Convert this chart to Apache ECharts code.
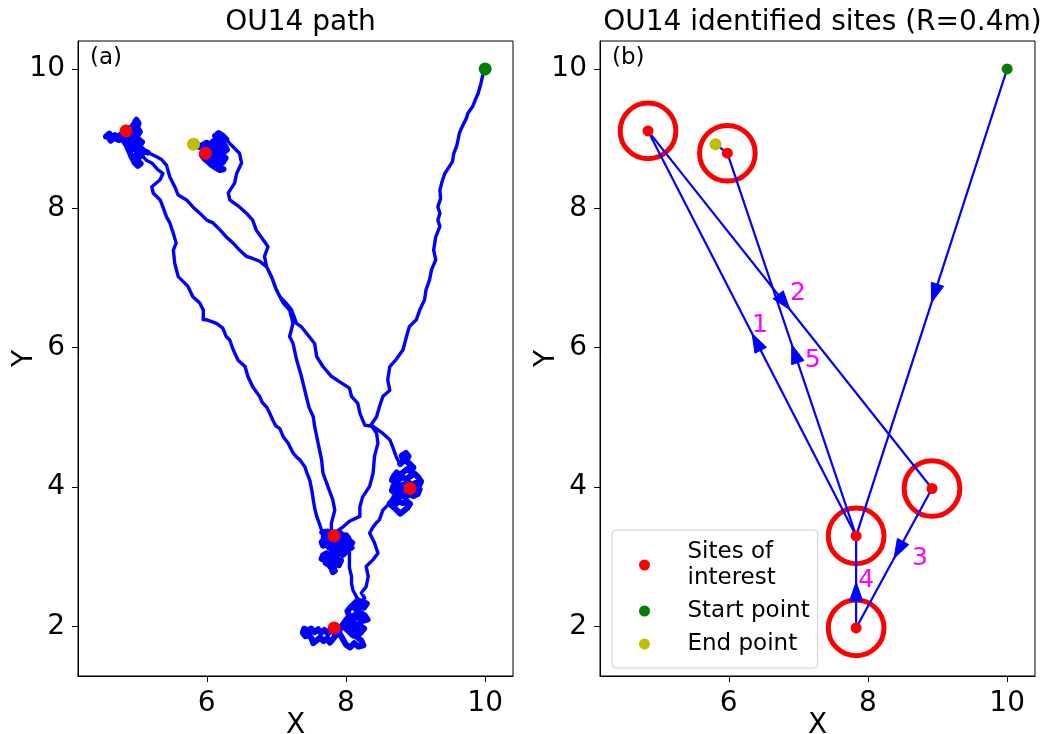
<!DOCTYPE html>
<html>
<head>
<meta charset="utf-8">
<script src="https://cdn.jsdelivr.net/npm/echarts@6/dist/echarts.min.js"></script>
<style>
  html, body { margin: 0; padding: 0; background: #ffffff; }
  #chart { width: 1047px; height: 734px; }
</style>
</head>
<body>
<div id="chart"></div>
<script>
// ---- axis ranges and ticks ----
const xRange = [4.15, 10.40];
const yRange = [1.29, 10.40];
const xTicks = [6, 8, 10];
const yTicks = [2, 4, 6, 8, 10];

// ---- start / end of the trajectory ----
const startPoint = [10.00, 10.00];
const endPoint = [5.81, 8.92];

// ---- identified sites (A, B, C, D, E) ----
const siteX = [7.83, 4.84, 8.92, 7.83, 5.98];
const siteY = [3.30, 9.11, 3.98, 1.98, 8.79];
const siteRadius = 0.4;
// order in which the walker visits the sites: A, B, C, D, A, E
const visitOrder = [0, 1, 2, 3, 0, 4];
// leg labels for the hops between sites (the first hop from the start is unlabelled)
const legLabels = ['', '1', '2', '3', '4', '5'];

// ---- recorded trajectory, piece by piece ----
const toSiteA = [
  [10.00, 10.00], [9.96, 9.89], [9.94, 9.79], [9.90, 9.65], [9.86, 9.56], [9.82, 9.46],
  [9.75, 9.36], [9.73, 9.29], [9.67, 9.17], [9.63, 9.08], [9.61, 8.98], [9.59, 8.89],
  [9.55, 8.79], [9.53, 8.67], [9.48, 8.59], [9.42, 8.50], [9.38, 8.38], [9.35, 8.26],
  [9.36, 8.14], [9.32, 8.02], [9.35, 7.93], [9.32, 7.83], [9.35, 7.74], [9.29, 7.59],
  [9.26, 7.40], [9.29, 7.26], [9.23, 7.12], [9.20, 6.97], [9.15, 6.83], [9.13, 6.69],
  [9.06, 6.54], [9.01, 6.40], [8.91, 6.30], [8.87, 6.16], [8.82, 5.97], [8.72, 5.83],
  [8.63, 5.73], [8.60, 5.54], [8.63, 5.39], [8.53, 5.30], [8.48, 5.15], [8.44, 5.01],
  [8.36, 4.89], [8.44, 4.77], [8.46, 4.63], [8.41, 4.44], [8.39, 4.20], [8.34, 4.01],
  [8.24, 3.86], [8.20, 3.72], [8.20, 3.58], [8.05, 3.51], [7.96, 3.43], [7.86, 3.36]
];
const clusterA = [
  [7.66, 3.35], [7.70, 3.31], [7.74, 3.36], [7.78, 3.31], [7.83, 3.35], [7.87, 3.30],
  [7.92, 3.34], [7.96, 3.29], [8.01, 3.27], [8.05, 3.23], [8.09, 3.20], [8.04, 3.17],
  [8.08, 3.13], [8.02, 3.11], [7.97, 3.15], [7.93, 3.21], [7.88, 3.25], [7.84, 3.21],
  [7.79, 3.26], [7.74, 3.22], [7.69, 3.26], [7.65, 3.21], [7.67, 3.16], [7.72, 3.18],
  [7.76, 3.13], [7.81, 3.17], [7.86, 3.12], [7.90, 3.16], [7.95, 3.11], [8.00, 3.07],
  [7.96, 3.03], [7.91, 3.06], [7.87, 3.01], [7.82, 3.05], [7.77, 3.01], [7.72, 3.05],
  [7.67, 3.02], [7.65, 2.97], [7.70, 2.95], [7.75, 2.98], [7.79, 2.93], [7.84, 2.96],
  [7.89, 2.92], [7.93, 2.95], [7.90, 2.88], [7.85, 2.90], [7.81, 2.85], [7.84, 2.80],
  [7.81, 2.78], [7.79, 2.84], [7.75, 2.89], [7.71, 2.91], [7.74, 2.97], [7.78, 3.03],
  [7.82, 3.09], [7.86, 3.16], [7.83, 3.23], [7.77, 3.29], [7.72, 3.33], [7.68, 3.29],
  [7.70, 3.21], [7.76, 3.25], [7.81, 3.20], [7.88, 3.19], [7.94, 3.25], [7.99, 3.21],
  [8.04, 3.26], [8.00, 3.31], [7.93, 3.30], [7.80, 3.33], [7.70, 3.36]
];
const legAtoB = [
  [7.65, 3.38], [7.61, 3.50], [7.58, 3.58], [7.55, 3.70], [7.53, 3.82], [7.51, 3.95],
  [7.48, 4.10], [7.44, 4.20], [7.41, 4.29], [7.34, 4.39], [7.29, 4.43], [7.24, 4.49],
  [7.17, 4.63], [7.10, 4.72], [7.05, 4.84], [6.99, 4.88], [6.95, 4.96], [6.90, 5.07],
  [6.86, 5.15], [6.80, 5.21], [6.76, 5.30], [6.66, 5.44], [6.59, 5.59], [6.55, 5.73],
  [6.45, 5.82], [6.38, 5.97], [6.33, 6.11], [6.28, 6.16], [6.23, 6.28], [6.14, 6.35],
  [6.00, 6.40], [5.95, 6.40], [5.95, 6.54], [5.90, 6.64], [5.80, 6.73], [5.73, 6.88],
  [5.59, 7.02], [5.54, 7.21], [5.52, 7.40], [5.56, 7.50], [5.52, 7.64], [5.47, 7.79],
  [5.42, 7.88], [5.37, 8.02], [5.33, 8.12], [5.23, 8.22], [5.21, 8.31], [5.33, 8.41],
  [5.37, 8.50], [5.30, 8.55], [5.21, 8.65], [5.13, 8.69], [5.04, 8.79], [4.94, 8.89]
];
const clusterB = [
  [4.87, 8.98], [4.80, 9.02], [4.74, 8.98], [4.68, 9.02], [4.62, 8.97], [4.58, 9.04],
  [4.55, 9.03], [4.60, 9.07], [4.64, 9.01], [4.68, 9.05], [4.71, 8.99], [4.74, 9.04],
  [4.78, 9.07], [4.82, 9.02], [4.86, 9.09], [4.90, 9.14], [4.95, 9.20], [4.99, 9.27],
  [5.02, 9.22], [5.00, 9.15], [5.04, 9.10], [5.00, 9.04], [4.95, 9.08], [4.91, 9.02],
  [4.96, 8.97], [5.02, 8.99], [5.07, 8.95], [5.03, 8.90], [4.97, 8.92], [4.92, 8.88],
  [4.97, 8.84], [5.03, 8.83], [5.08, 8.79], [5.04, 8.74], [4.99, 8.77], [4.95, 8.72],
  [5.00, 8.68], [5.05, 8.64], [5.01, 8.61], [4.96, 8.66], [4.92, 8.74], [4.89, 8.81],
  [4.86, 8.88], [4.84, 8.95], [4.88, 9.00], [4.93, 9.05], [4.97, 9.12], [4.93, 9.17],
  [4.88, 9.11], [4.83, 9.07], [4.79, 8.99], [4.84, 8.92], [4.90, 8.95], [4.98, 8.88],
  [5.06, 8.86], [5.10, 8.82], [5.15, 8.80]
];
const legBtoC = [
  [5.28, 8.74], [5.35, 8.70], [5.42, 8.62], [5.47, 8.45], [5.54, 8.31], [5.59, 8.19],
  [5.71, 8.12], [5.80, 8.02], [5.90, 7.93], [6.00, 7.83], [6.09, 7.79], [6.19, 7.69],
  [6.28, 7.59], [6.38, 7.50], [6.47, 7.40], [6.57, 7.31], [6.66, 7.28], [6.76, 7.24],
  [6.86, 7.16], [6.93, 7.02], [6.98, 6.88], [7.05, 6.73], [7.14, 6.64], [7.22, 6.54],
  [7.29, 6.35], [7.36, 6.30], [7.43, 6.21], [7.55, 6.06], [7.58, 5.87], [7.67, 5.73],
  [7.79, 5.59], [7.91, 5.51], [8.05, 5.42], [8.08, 5.30], [8.17, 5.20], [8.20, 5.06],
  [8.27, 4.89], [8.39, 4.87], [8.53, 4.77], [8.63, 4.68], [8.67, 4.58], [8.72, 4.44],
  [8.77, 4.34]
];
const clusterC = [
  [8.78, 4.33], [8.83, 4.38], [8.80, 4.45], [8.86, 4.49], [8.90, 4.44], [8.86, 4.38],
  [8.92, 4.33], [8.97, 4.28], [8.93, 4.22], [8.88, 4.26], [8.83, 4.22], [8.78, 4.18],
  [8.73, 4.21], [8.69, 4.16], [8.66, 4.10], [8.71, 4.06], [8.76, 4.11], [8.81, 4.14],
  [8.87, 4.12], [8.93, 4.16], [8.99, 4.19], [9.04, 4.14], [9.08, 4.08], [9.05, 4.02],
  [9.00, 4.06], [8.95, 4.03], [8.90, 4.07], [8.84, 4.04], [8.78, 4.02], [8.73, 3.98],
  [8.68, 4.01], [8.66, 3.95], [8.71, 3.91], [8.77, 3.94], [8.83, 3.97], [8.89, 3.94],
  [8.95, 3.97], [9.01, 3.94], [9.06, 3.97], [9.03, 3.90], [8.97, 3.87], [8.92, 3.90],
  [8.86, 3.86], [8.80, 3.88], [8.75, 3.84], [8.70, 3.86], [8.66, 3.80], [8.71, 3.76],
  [8.76, 3.79], [8.82, 3.77], [8.87, 3.80], [8.92, 3.76], [8.88, 3.70], [8.83, 3.66],
  [8.78, 3.62], [8.74, 3.66], [8.70, 3.70], [8.66, 3.73], [8.63, 3.77]
];
const legCtoD = [
  [8.53, 3.67], [8.48, 3.53], [8.43, 3.48], [8.39, 3.43], [8.34, 3.34], [8.41, 3.20],
  [8.46, 3.05], [8.39, 2.96], [8.29, 2.86], [8.32, 2.72], [8.29, 2.57], [8.22, 2.48],
  [8.27, 2.41]
];
const clusterD = [
  [8.22, 2.36], [8.30, 2.33], [8.26, 2.27], [8.19, 2.30], [8.14, 2.25], [8.20, 2.20],
  [8.27, 2.16], [8.31, 2.10], [8.24, 2.08], [8.18, 2.12], [8.12, 2.16], [8.07, 2.10],
  [8.13, 2.04], [8.20, 2.01], [8.26, 1.97], [8.21, 1.91], [8.15, 1.95], [8.09, 1.99],
  [8.03, 2.04], [7.97, 2.00], [8.03, 1.94], [8.09, 1.88], [8.16, 1.85], [8.22, 1.80],
  [8.25, 1.73], [8.18, 1.71], [8.12, 1.76], [8.06, 1.70], [8.00, 1.74], [7.96, 1.81],
  [7.92, 1.88], [7.88, 1.95], [7.83, 1.91], [7.78, 1.96], [7.74, 1.90], [7.69, 1.95],
  [7.64, 1.91], [7.60, 1.96], [7.55, 1.92], [7.50, 1.97], [7.45, 1.94], [7.40, 1.97],
  [7.38, 1.91], [7.42, 1.86], [7.47, 1.88], [7.51, 1.82], [7.53, 1.76], [7.58, 1.80],
  [7.63, 1.84], [7.68, 1.79], [7.73, 1.83], [7.77, 1.77], [7.82, 1.83], [7.86, 1.88],
  [7.91, 1.95], [7.95, 2.02], [8.00, 2.09], [8.05, 2.15], [8.02, 2.22], [8.07, 2.28],
  [8.12, 2.33], [8.17, 2.38]
];
const legDtoA = [
  [8.15, 2.43], [8.10, 2.52], [8.08, 2.62], [8.08, 2.72], [8.05, 2.84], [8.05, 2.96],
  [8.05, 3.15], [7.99, 3.24], [7.91, 3.17], [7.85, 3.29], [7.79, 3.21]
];
const legAtoE = [
  [7.79, 3.48], [7.84, 3.67], [7.81, 3.82], [7.74, 4.01], [7.67, 4.20], [7.65, 4.39],
  [7.60, 4.63], [7.55, 4.87], [7.53, 5.01], [7.47, 5.14], [7.43, 5.30], [7.36, 5.59],
  [7.29, 5.83], [7.24, 6.06], [7.19, 6.16], [7.24, 6.35], [7.19, 6.54], [7.10, 6.64],
  [7.00, 6.83], [6.95, 6.97], [6.86, 7.16], [6.83, 7.31], [6.88, 7.45], [6.81, 7.55],
  [6.71, 7.69], [6.66, 7.83], [6.57, 7.93], [6.47, 8.02], [6.33, 8.12], [6.31, 8.22],
  [6.40, 8.36], [6.43, 8.50], [6.50, 8.65], [6.47, 8.79], [6.33, 8.93]
];
const clusterE = [
  [6.28, 8.99], [6.23, 9.04], [6.17, 9.08], [6.12, 9.04], [6.16, 8.99], [6.21, 8.95],
  [6.26, 8.90], [6.29, 8.84], [6.24, 8.80], [6.19, 8.85], [6.14, 8.91], [6.09, 8.96],
  [6.05, 8.92], [6.10, 8.86], [6.15, 8.81], [6.21, 8.76], [6.27, 8.72], [6.23, 8.66],
  [6.18, 8.70], [6.12, 8.75], [6.07, 8.80], [6.02, 8.85], [5.97, 8.80], [6.02, 8.74],
  [6.08, 8.69], [6.13, 8.64], [6.18, 8.59], [6.24, 8.56], [6.19, 8.55], [6.13, 8.58],
  [6.07, 8.62], [6.02, 8.67], [5.97, 8.71], [5.93, 8.76], [5.98, 8.84], [6.04, 8.89],
  [6.00, 8.94], [5.94, 8.91], [5.89, 8.88], [5.85, 8.92]
];

const pathPoints = [].concat(
  toSiteA, clusterA, legAtoB, clusterB, legBtoC, clusterC,
  legCtoD, clusterD, legDtoA, legAtoE, clusterE, [endPoint]
);
// the lingering parts of the walk around each site, drawn heavier so they read as dense tangles
const lingerParts = [clusterA, clusterB, clusterC, clusterD, clusterE];

// ---- derived data for the site diagram ----
const sites = siteX.map((x, i) => [x, siteY[i]]);
const route = [startPoint].concat(visitOrder.map(i => sites[i]), [endPoint]);
const legs = [];
for (let i = 0; i < route.length - 1; i++) {
  legs.push([route[i][0], route[i][1], route[i + 1][0], route[i + 1][1]]);
}

const FONT = 'DejaVu Sans';
const BLUE = '#0000ff';
const RED = '#ff0000';
const GREEN = '#008000';
const YELLOW = '#bfbf00';
const MAGENTA = '#ff00ff';

// pixel offsets of each leg number from the leg midpoint
const labelOffsets = [null, [8, -8], [8, -16], [26, 0], [10, -1], [21, 16]];

function makeXAxis(gridIndex) {
  return {
    type: 'value', gridIndex: gridIndex, min: xRange[0], max: xRange[1],
    name: 'X', nameLocation: 'middle', nameGap: 36, nameMoveOverlap: false,
    nameTextStyle: { fontSize: 28, color: '#000', fontFamily: FONT },
    axisLine: { show: true, onZero: false, lineStyle: { color: '#000', width: 1 } },
    axisTick: { show: true, inside: false, length: 6, customValues: xTicks, lineStyle: { color: '#000', width: 1 } },
    axisLabel: { show: true, margin: 14, fontSize: 28, color: '#000', fontFamily: FONT, customValues: xTicks },
    splitLine: { show: false }
  };
}
function makeYAxis(gridIndex) {
  return {
    type: 'value', gridIndex: gridIndex, min: yRange[0], max: yRange[1],
    name: 'Y', nameLocation: 'middle', nameGap: 39, nameRotate: 90, nameMoveOverlap: false,
    nameTextStyle: { fontSize: 28, color: '#000', fontFamily: FONT },
    axisLine: { show: true, onZero: false, lineStyle: { color: '#000', width: 1 } },
    axisTick: { show: true, inside: false, length: 6, customValues: yTicks, lineStyle: { color: '#000', width: 1 } },
    axisLabel: { show: true, margin: 13, fontSize: 28, color: '#000', fontFamily: FONT, customValues: yTicks },
    splitLine: { show: false }
  };
}

function renderCircle(params, api) {
  const c = api.coord([api.value(0), api.value(1)]);
  const r = api.size([siteRadius, 0])[0];
  return {
    type: 'circle',
    shape: { cx: c[0], cy: c[1], r: r },
    style: { fill: 'none', stroke: RED, lineWidth: 5 }
  };
}

function renderLeg(params, api) {
  const p = api.coord([api.value(0), api.value(1)]);
  const q = api.coord([api.value(2), api.value(3)]);
  const children = [{
    type: 'line',
    shape: { x1: p[0], y1: p[1], x2: q[0], y2: q[1] },
    style: { stroke: BLUE, lineWidth: 2.2 }
  }];
  const i = params.dataIndex;
  if (i < legLabels.length) {
    const dx = q[0] - p[0], dy = q[1] - p[1];
    const len = Math.sqrt(dx * dx + dy * dy) || 1;
    const ux = dx / len, uy = dy / len;
    const nx = -uy, ny = ux;
    const mx = (p[0] + q[0]) / 2, my = (p[1] + q[1]) / 2;
    const L = 19, W = 6.5;
    const bx = mx - ux * L, by = my - uy * L;
    children.push({
      type: 'polygon',
      shape: { points: [[mx, my], [bx + nx * W, by + ny * W], [bx - nx * W, by - ny * W]] },
      style: { fill: BLUE, stroke: BLUE, lineWidth: 1 }
    });
    if (legLabels[i]) {
      const off = labelOffsets[i];
      children.push({
        type: 'text',
        x: mx + off[0], y: my + off[1],
        style: {
          text: legLabels[i], fill: MAGENTA, font: '25px "DejaVu Sans"',
          align: 'center', verticalAlign: 'middle'
        }
      });
    }
  }
  return { type: 'group', children: children };
}

const chart = echarts.init(document.getElementById('chart'), null, { renderer: 'canvas' });

const lingerSeries = lingerParts.map(part => ({
  type: 'line', xAxisIndex: 0, yAxisIndex: 0, data: part,
  showSymbol: false, symbol: 'none', sampling: null, smooth: false, z: 2, silent: true,
  lineStyle: { color: BLUE, width: 6, join: 'round', cap: 'round' }, emphasis: { disabled: true }
}));

chart.setOption({
  animation: false,
  backgroundColor: '#ffffff',
  textStyle: { fontFamily: FONT },
  title: [
    { text: 'OU14 path', left: 295.5, top: 4, textAlign: 'center',
      textStyle: { fontSize: 28, fontWeight: 'normal', color: '#000', fontFamily: FONT } },
    { text: 'OU14 identified sites (R=0.4m)', left: 817.5, top: 4, textAlign: 'center',
      textStyle: { fontSize: 28, fontWeight: 'normal', color: '#000', fontFamily: FONT } }
  ],
  grid: [
    { left: 78, top: 41, width: 435, height: 635, show: true, borderColor: '#000', borderWidth: 1,
      backgroundColor: 'transparent', containLabel: false, outerBoundsMode: 'none' },
    { left: 600, top: 41, width: 435, height: 635, show: true, borderColor: '#000', borderWidth: 1,
      backgroundColor: 'transparent', containLabel: false, outerBoundsMode: 'none' }
  ],
  xAxis: [makeXAxis(0), makeXAxis(1)],
  yAxis: [makeYAxis(0), makeYAxis(1)],
  legend: {
    data: ['Sites of\ninterest', 'Start point', 'End point'],
    orient: 'vertical', left: 612, top: 530,
    padding: [9, 8, 11, 27],
    itemWidth: 30, itemHeight: 11, itemGap: 7,
    icon: 'circle', selectedMode: false,
    textStyle: { fontSize: 23, lineHeight: 26, color: '#000', fontFamily: FONT, padding: [0, 0, 0, 23] },
    borderColor: '#cccccc', borderWidth: 1, borderRadius: 4,
    backgroundColor: 'rgba(255,255,255,0.8)'
  },
  graphic: [
    { type: 'text', left: 90, top: 47, style: { text: '(a)', font: '23px "DejaVu Sans"', fill: '#000' } },
    { type: 'text', left: 612, top: 47, style: { text: '(b)', font: '23px "DejaVu Sans"', fill: '#000' } }
  ],
  series: [
    // (a) full trajectory
    { type: 'line', name: 'path', xAxisIndex: 0, yAxisIndex: 0, data: pathPoints,
      showSymbol: false, symbol: 'none', sampling: null, smooth: false, z: 2,
      lineStyle: { color: BLUE, width: 3.4, join: 'round' }, emphasis: { disabled: true } }
  ].concat(lingerSeries, [
    { type: 'scatter', name: 'Sites of\ninterest', xAxisIndex: 0, yAxisIndex: 0, data: sites,
      symbolSize: 13, itemStyle: { color: RED, opacity: 1 }, z: 4 },
    { type: 'scatter', name: 'Start point', xAxisIndex: 0, yAxisIndex: 0, data: [startPoint],
      symbolSize: 13, itemStyle: { color: GREEN, opacity: 1 }, z: 5 },
    { type: 'scatter', name: 'End point', xAxisIndex: 0, yAxisIndex: 0, data: [endPoint],
      symbolSize: 13, itemStyle: { color: YELLOW, opacity: 1 }, z: 5 },

    // (b) identified sites and the hops between them
    { type: 'custom', name: 'radius', xAxisIndex: 1, yAxisIndex: 1, data: sites,
      renderItem: renderCircle, z: 2, silent: true },
    { type: 'custom', name: 'hops', xAxisIndex: 1, yAxisIndex: 1, data: legs,
      encode: { x: [0, 2], y: [1, 3] }, renderItem: renderLeg, z: 3, silent: true },
    { type: 'scatter', name: 'Sites of\ninterest', xAxisIndex: 1, yAxisIndex: 1, data: sites,
      symbolSize: 11, itemStyle: { color: RED, opacity: 1 }, z: 4 },
    { type: 'scatter', name: 'Start point', xAxisIndex: 1, yAxisIndex: 1, data: [startPoint],
      symbolSize: 11, itemStyle: { color: GREEN, opacity: 1 }, z: 5 },
    { type: 'scatter', name: 'End point', xAxisIndex: 1, yAxisIndex: 1, data: [endPoint],
      symbolSize: 12, itemStyle: { color: YELLOW, opacity: 1 }, z: 5 }
  ])
});
</script>
</body>
</html>
